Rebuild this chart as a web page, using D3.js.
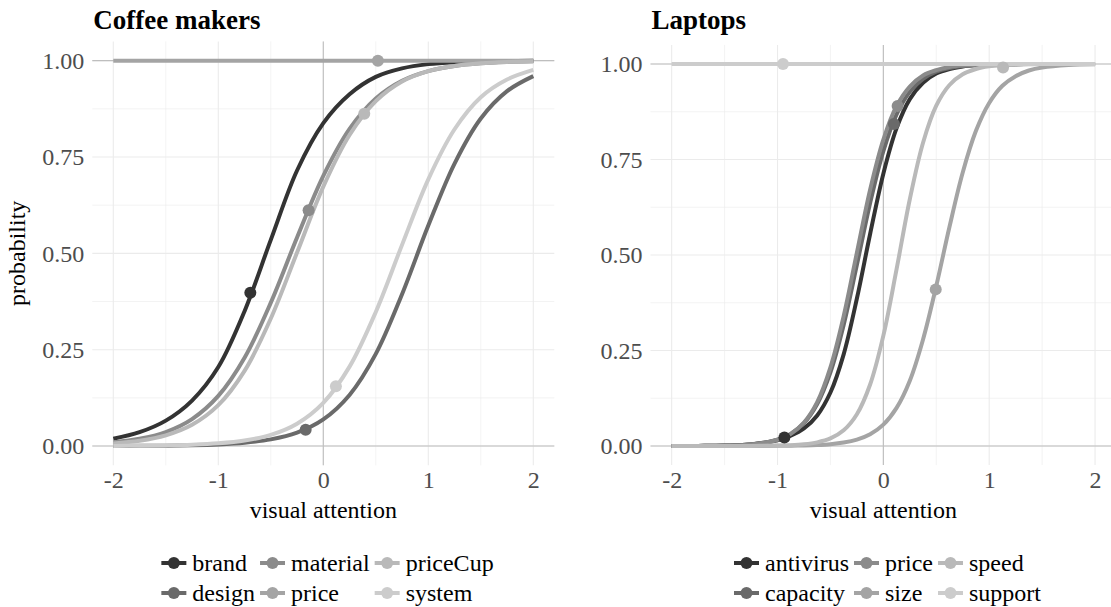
<!DOCTYPE html>
<html>
<head>
<meta charset="utf-8">
<script src="https://cdn.jsdelivr.net/npm/d3@7"></script>
<style>
  html, body { margin: 0; padding: 0; background: #ffffff; }
  svg { display: block; }
</style>
</head>
<body>
<svg id="chart" width="1111" height="607"></svg>
<script>
// ---------------- DATA ----------------
const coffeeTitle = "Coffee makers";
const laptopTitle = "Laptops";
const xTickValues = [-2, -1, 0, 1, 2];
const yTickValues = [0, 0.25, 0.5, 0.75, 1];

const coffeeAttrs = ["brand", "design", "material", "price", "priceCup", "system"];
const coffeeX = [-2, -1.75, -1.5, -1.25, -1, -0.75, -0.5, -0.25, 0, 0.25, 0.5, 0.75, 1, 1.25, 1.5, 1.75, 2];
const coffeeBrand    = [0.019, 0.036, 0.066, 0.118, 0.205, 0.350, 0.535, 0.715, 0.838, 0.913, 0.958, 0.980, 0.991, 0.996, 0.998, 0.999, 1.000];
const coffeeDesign   = [0.0002, 0.0005, 0.0010, 0.0020, 0.0041, 0.0084, 0.0172, 0.0349, 0.0691, 0.1325, 0.239, 0.394, 0.572, 0.733, 0.850, 0.921, 0.960];
const coffeeMaterial = [0.0095, 0.0187, 0.0364, 0.0699, 0.130, 0.229, 0.372, 0.541, 0.701, 0.823, 0.902, 0.948, 0.973, 0.9864, 0.9931, 0.9965, 0.9983];
const coffeePrice    = [1, 1, 1, 1, 1, 1, 1, 1, 1, 1, 1, 1, 1, 1, 1, 1, 1];
const coffeePriceCup = [0.0068, 0.0138, 0.0278, 0.0551, 0.106, 0.195, 0.331, 0.502, 0.673, 0.807, 0.895, 0.946, 0.973, 0.9864, 0.9933, 0.9967, 0.9984];
const coffeeSystem   = [0.0004, 0.0008, 0.0017, 0.0034, 0.0070, 0.0143, 0.029, 0.058, 0.112, 0.206, 0.348, 0.522, 0.692, 0.822, 0.905, 0.951, 0.976];
const coffeePointX = [-0.695, -0.168, -0.14, 0.52, 0.39, 0.12];
const coffeePointY = [0.398, 0.042, 0.612, 1.0, 0.862, 0.155];

const laptopAttrs = ["antivirus", "capacity", "price", "size", "speed", "support"];
const laptopX = [-2, -1.75, -1.5, -1.25, -1, -0.875, -0.75, -0.625, -0.5, -0.375, -0.25, -0.125, 0, 0.125, 0.25, 0.375, 0.5, 0.625, 0.75, 0.875, 1, 1.125, 1.25, 1.375, 1.5, 1.75, 2];
const laptopAntivirus = [0.0000, 0.0003, 0.0010, 0.0040, 0.0150, 0.0270, 0.0460, 0.0800, 0.140, 0.240, 0.386, 0.555, 0.713, 0.832, 0.908, 0.951, 0.975, 0.987, 0.9935, 0.9967, 0.9984, 0.9992, 0.9996, 0.9998, 0.9999, 1.0, 1.0];
const laptopCapacity  = [0.0001, 0.0003, 0.0012, 0.0045, 0.0166, 0.0318, 0.0598, 0.110, 0.193, 0.317, 0.474, 0.636, 0.772, 0.868, 0.927, 0.961, 0.980, 0.9894, 0.9945, 0.9971, 0.9985, 0.9992, 0.9996, 0.9998, 0.9999, 1.0, 1.0];
const laptopPrice     = [0.0001, 0.0003, 0.0011, 0.0042, 0.0163, 0.0319, 0.0615, 0.115, 0.206, 0.340, 0.506, 0.671, 0.802, 0.890, 0.941, 0.970, 0.984, 0.9921, 0.9960, 0.9980, 0.9990, 0.9995, 0.9997, 0.9999, 1.0, 1.0, 1.0];
const laptopSize      = [0.0000, 0.0000, 0.0000, 0.0001, 0.0004, 0.0007, 0.0014, 0.0026, 0.0048, 0.0090, 0.0167, 0.0308, 0.0560, 0.0998, 0.171, 0.279, 0.419, 0.574, 0.716, 0.825, 0.898, 0.943, 0.968, 0.983, 0.9908, 0.9973, 0.9992];
const laptopSpeed     = [0.0000, 0.0000, 0.0000, 0.0002, 0.0010, 0.0021, 0.0045, 0.0095, 0.0198, 0.0411, 0.0832, 0.161, 0.289, 0.463, 0.646, 0.794, 0.891, 0.945, 0.973, 0.987, 0.9939, 0.9971, 0.9986, 0.9994, 0.9997, 1.0, 1.0];
const laptopSupport   = [1, 1, 1, 1, 1, 1, 1, 1, 1, 1, 1, 1, 1, 1, 1, 1, 1, 1, 1, 1, 1, 1, 1, 1, 1, 1, 1];
const laptopPointX = [-0.935, 0.10, 0.135, 0.495, 1.131, -0.948];
const laptopPointY = [0.022, 0.843, 0.89, 0.41, 0.991, 1.0];

// ---------------- STYLE ----------------
const greys = ["#333333", "#6A6A6A", "#8B8B8B", "#A4A4A4", "#B9B9B9", "#CCCCCC"];
const FONT = "'Liberation Serif', 'Times New Roman', serif";

const svg = d3.select("#chart");
svg.append("rect").attr("width", 1111).attr("height", 607).attr("fill", "#ffffff");

function drawPanel(cfg) {
  const x = d3.scaleLinear().domain([-2.2, 2.2]).range([cfg.left, cfg.right]);
  const y = d3.scaleLinear().domain([-0.05, 1.05]).range([cfg.bottom, cfg.top]);
  const g = svg.append("g");

  // minor grid
  const xMinor = xTickValues.slice(0, -1).map((d, i) => (d + xTickValues[i + 1]) / 2);
  const yMinor = yTickValues.slice(0, -1).map((d, i) => (d + yTickValues[i + 1]) / 2);
  g.selectAll(".xminor").data(xMinor).enter().append("line")
    .attr("x1", d => x(d)).attr("x2", d => x(d)).attr("y1", cfg.top).attr("y2", cfg.bottom)
    .attr("stroke", "#EBEBEB").attr("stroke-width", 0.6);
  g.selectAll(".yminor").data(yMinor).enter().append("line")
    .attr("y1", d => y(d)).attr("y2", d => y(d)).attr("x1", cfg.left).attr("x2", cfg.right)
    .attr("stroke", "#EBEBEB").attr("stroke-width", 0.6);
  // major grid
  g.selectAll(".xmajor").data(xTickValues).enter().append("line")
    .attr("x1", d => x(d)).attr("x2", d => x(d)).attr("y1", cfg.top).attr("y2", cfg.bottom)
    .attr("stroke", "#EBEBEB").attr("stroke-width", 1.1);
  g.selectAll(".ymajor").data(yTickValues).enter().append("line")
    .attr("y1", d => y(d)).attr("y2", d => y(d)).attr("x1", cfg.left).attr("x2", cfg.right)
    .attr("stroke", "#EBEBEB").attr("stroke-width", 1.1);

  // reference lines
  [0, 1].forEach(v => g.append("line")
    .attr("x1", cfg.left).attr("x2", cfg.right).attr("y1", y(v)).attr("y2", y(v))
    .attr("stroke", "#BEBEBE").attr("stroke-width", 1.1));
  g.append("line").attr("x1", x(0)).attr("x2", x(0)).attr("y1", cfg.top).attr("y2", cfg.bottom)
    .attr("stroke", "#BEBEBE").attr("stroke-width", 1.1);

  // axes (labels only)
  const ax = g.append("g").attr("transform", `translate(0,${cfg.bottom})`)
    .call(d3.axisBottom(x).tickValues(xTickValues).tickSize(0).tickPadding(6).tickFormat(d => String(d)));
  ax.select(".domain").remove();
  ax.selectAll("text").attr("font-family", FONT).attr("font-size", 24).attr("fill", "#4D4D4D");
  const ay = g.append("g").attr("transform", `translate(${cfg.left},0)`)
    .call(d3.axisLeft(y).tickValues(yTickValues).tickSize(0).tickPadding(8).tickFormat(d3.format(".2f")));
  ay.select(".domain").remove();
  ay.selectAll("text").attr("font-family", FONT).attr("font-size", 24).attr("fill", "#4D4D4D");

  // titles
  g.append("text").attr("x", cfg.left + 1).attr("y", cfg.titleY).text(cfg.title)
    .attr("font-family", FONT).attr("font-weight", "bold").attr("font-size", 27).attr("fill", "#000");
  g.append("text").attr("x", (x(-2) + x(2)) / 2).attr("y", 518).attr("text-anchor", "middle")
    .text("visual attention").attr("font-family", FONT).attr("font-size", 24).attr("fill", "#000");
  if (cfg.ylab) {
    g.append("text").attr("transform", `translate(25,${(cfg.top + cfg.bottom) / 2}) rotate(-90)`)
      .attr("text-anchor", "middle").text(cfg.ylab)
      .attr("font-family", FONT).attr("font-size", 24).attr("fill", "#000");
  }

  // curves
  const line = d3.line().x(d => x(d[0])).y(d => y(d[1])).curve(d3.curveCatmullRom.alpha(0.5));
  cfg.series.forEach((vals, i) => {
    g.append("path").datum(cfg.xs.map((xv, j) => [xv, vals[j]]))
      .attr("d", line).attr("fill", "none").attr("stroke", greys[i])
      .attr("stroke-width", 4).attr("stroke-linejoin", "round").attr("stroke-linecap", "butt");
  });
  cfg.px.forEach((pxv, i) => {
    g.append("circle").attr("cx", x(pxv)).attr("cy", y(cfg.py[i])).attr("r", 6).attr("fill", greys[i]);
  });

  // legend (2 rows, column-major)
  const lg = svg.append("g");
  const keyW = 27, gapT = 5, colGap = 4;
  const tmp = lg.append("g");
  const widths = cfg.attrs.map(a => {
    const t = tmp.append("text").attr("font-family", FONT).attr("font-size", 24).text(a);
    return t.node().getComputedTextLength();
  });
  tmp.remove();
  const nCols = Math.ceil(cfg.attrs.length / 2);
  const colW = [];
  for (let c = 0; c < nCols; c++) {
    colW.push(keyW + gapT + Math.max(widths[c * 2] || 0, widths[c * 2 + 1] || 0) + colGap);
  }
  const total = d3.sum(colW) - colGap;
  let cx0 = cfg.legendCenter - total / 2;
  const rowsY = [563, 593];
  for (let c = 0; c < nCols; c++) {
    for (let r = 0; r < 2; r++) {
      const k = c * 2 + r;
      if (k >= cfg.attrs.length) continue;
      const yy = rowsY[r];
      lg.append("line").attr("x1", cx0 + 1).attr("x2", cx0 + keyW - 1).attr("y1", yy).attr("y2", yy)
        .attr("stroke", greys[k]).attr("stroke-width", 4);
      lg.append("circle").attr("cx", cx0 + keyW / 2).attr("cy", yy).attr("r", 6).attr("fill", greys[k]);
      lg.append("text").attr("x", cx0 + keyW + gapT).attr("y", yy + 8).text(cfg.attrs[k])
        .attr("font-family", FONT).attr("font-size", 24).attr("fill", "#000");
    }
    cx0 += colW[c];
  }
}

drawPanel({
  title: coffeeTitle, titleY: 29, ylab: "probability",
  left: 92.3, right: 554.3, top: 41.4, bottom: 465.3,
  xs: coffeeX,
  series: [coffeeBrand, coffeeDesign, coffeeMaterial, coffeePrice, coffeePriceCup, coffeeSystem],
  px: coffeePointX, py: coffeePointY, attrs: coffeeAttrs, legendCenter: 327
});
drawPanel({
  title: laptopTitle, titleY: 29, ylab: null,
  left: 650.5, right: 1116.2, top: 44.9, bottom: 465.1,
  xs: laptopX,
  series: [laptopAntivirus, laptopCapacity, laptopPrice, laptopSize, laptopSpeed, laptopSupport],
  px: laptopPointX, py: laptopPointY, attrs: laptopAttrs, legendCenter: 887
});
</script>
</body>
</html>
